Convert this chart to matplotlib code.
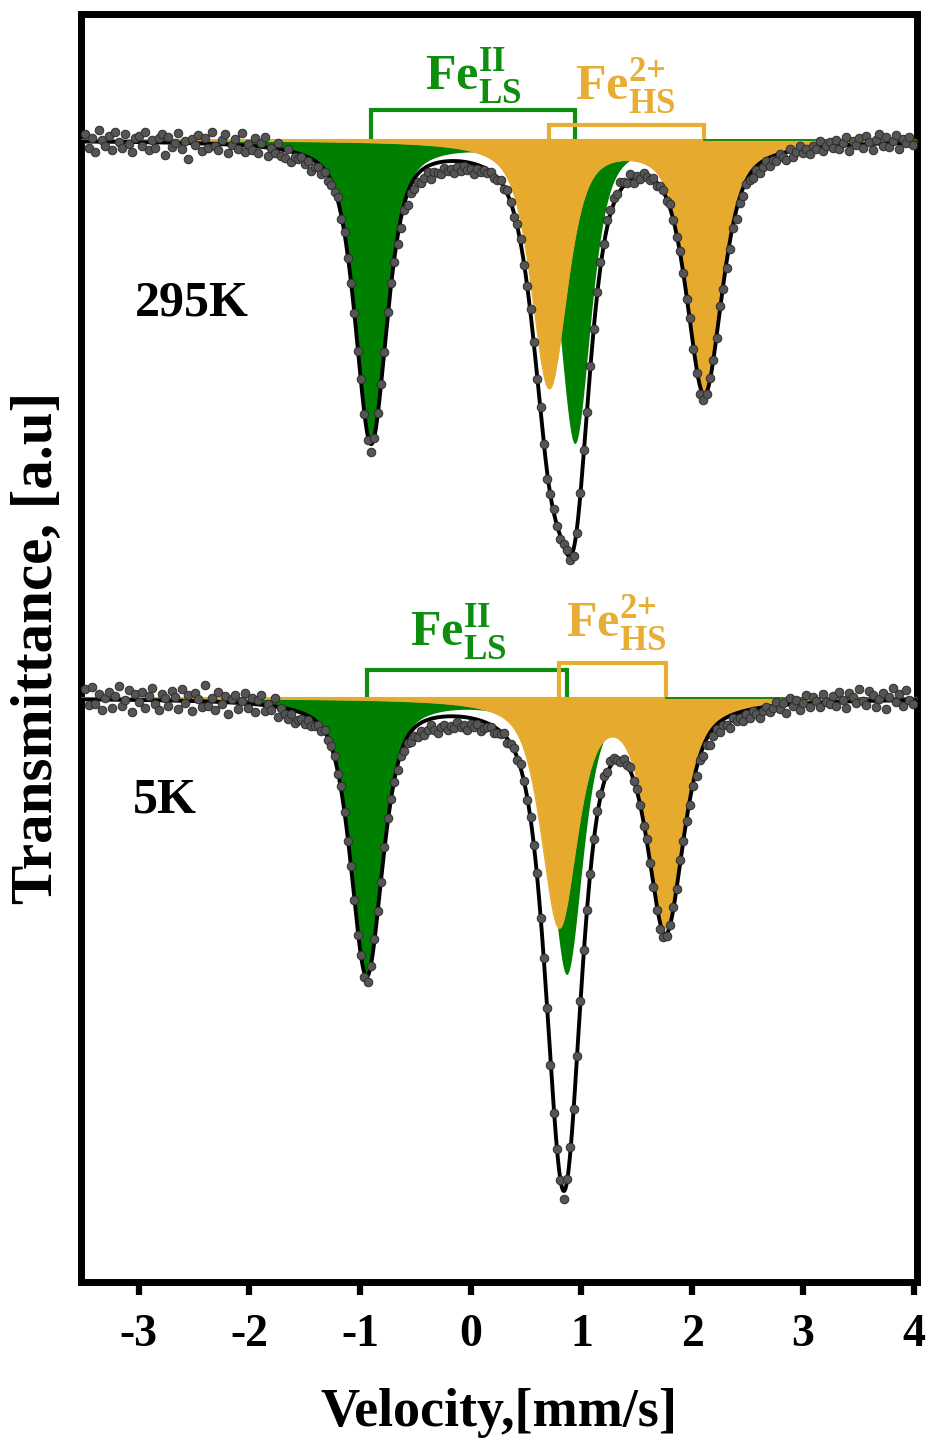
import numpy as np
import matplotlib
matplotlib.use('Agg')
import matplotlib.pyplot as plt

plt.rcParams['font.family'] = ['Liberation Serif', 'DejaVu Serif']
plt.rcParams['font.weight'] = 'bold'
plt.rcParams['mathtext.fontset'] = 'custom'
plt.rcParams['mathtext.rm'] = 'Liberation Serif:bold'
plt.rcParams['mathtext.bf'] = 'Liberation Serif:bold'

# channel grid of the spectra (mm/s)
v_start, v_step, n_chan = -3.48, 0.03, 250

# fitted doublets: line centres (mm/s), depths, FWHM
ls_295_centres = [-0.90, 0.94]
ls_295_depths = [0.150, 0.151]
ls_295_width = 0.34
hs_295_centres = [0.71, 2.11]
hs_295_depths = [0.123, 0.124]
hs_295_width = 0.38

ls_5_centres = [-0.94, 0.866]
ls_5_depths = [0.1375, 0.1375]
ls_5_width = 0.34
hs_5_centres = [0.80, 1.76]
hs_5_depths = [0.1125, 0.1125]
hs_5_width = 0.38

baseline_295 = 1.0
baseline_5 = 0.721

# measured points: deviation from the fit, in units of 0.001
res_295 = [4, -3, 2, -5, 6, 1, -2, 3, -4, 5, 0, -3, 4, -1, -5, 2, 3, -2, 5, -4, 1, -3, 2, 4, -6,
           3, -2, 0, 5, -3, 1, -8, 2, -1, 4, -4, 3, -2, 6, -1, -3, 2, 5, -4, 0, 3, -2, 6, -3, 1,
           -2, 4, -3, 2, 5, -4, 0, -2, 3, -3, -4, 1, -5, -2, -3, -1, -4, -2, -6, -3, -2, -4, -1, -3, -2,
           -1, 2, -2, 1, -1, 0, 1, -1, 2, 0, -2, -4, -1, 1, 0, -1, 2, 1, -2, -4, -5, -3, -6, -4, -5,
           -4, -6, -5, -3, -7, -4, -5, -6, -3, -5, -4, -6, -3, -5, -2, -4, -3, -5, -2, -3, -1, -2, 0, -2, -1,
           1, -1, 2, 0, -2, 1, 2, -1, 0, 2, 1, -1, 2, 0, -3, 1, 2, 0, -1, 1, 2, -2, -4, -3, 1,
           2, -1, 1, 0, 2, 3, 1, 4, 2, 3, 1, 4, 2, 0, 3, -2, 1, -1, 2, 0, -1, 1, -2, 0, 1,
           -1, 2, 0, -1, 1, 0, -1, 2, -1, -2, -4, -3, -1, 1, 0, -1, 2, -2, -3, -4, -2, -5, -3, -4, -2,
           -3, -4, -2, -5, -3, -1, -4, -2, -3, 0, -2, -4, 1, -3, -1, 2, -2, 0, -3, 1, -1, 3, -2, 0, 2,
           -1, 3, -2, 1, 4, -3, 2, 0, 3, -2, 4, 1, -3, 2, 5, -1, 3, -2, 1, 4, -3, 2, 0, 3, -1]

res_5 = [5, -3, 6, -2, 3, -5, 1, 4, -4, 2, 7, -3, 0, 5, -6, 3, -1, 4, -4, 2, 6, -2, -5, 3, 1,
         -3, 5, 2, -4, 6, -1, 3, -5, 4, 1, -3, 8, -2, 2, -4, 5, -1, 3, -6, 2, 4, -3, 1, 5, -2,
         3, -4, 2, 5, -3, 1, -2, 4, -5, 0, -3, -5, -2, -6, -4, -3, -5, -2, -4, -3, -1, -2, 1, -1, 0,
         1, -1, 2, 0, -1, 1, 0, -2, 1, -2, -3, -1, 1, 0, -1, 1, 2, 0, -1, -3, -2, -4, -3, -5, -4,
         -6, -4, -7, -5, -3, -6, -8, -5, -4, -7, -5, -6, -3, -5, -4, -6, -3, -4, -2, -5, -3, -2, -1, -3, -2,
         -1, 1, -2, 0, 1, -1, 2, 0, -1, 1, 0, 2, -1, 1, 0, -3, -2, 1, 0, -4, 1, 2, -1, 0, 1,
         2, 0, -1, 1, 3, 2, 4, 1, 3, 2, 0, -1, 1, 0, 2, -1, 1, 0, -2, 1, 0, -1, -2, -3, -2,
         -1, 0, 1, -1, 2, 0, -1, -3, -2, -4, -2, -5, -3, -6, -4, -2, -5, -3, -4, -6, -2, -4, -3, -5, -2,
         -4, -1, -3, -5, -2, 0, -3, -1, 2, -2, 1, -4, 3, -1, 2, -3, 0, 4, -2, 3, 1, -2, 4, 0, -1,
         3, -2, 5, 1, -3, 4, 2, -1, 6, 0, -2, 5, 3, -3, 1, 4, -4, 2, 6, -1, 3, -3, 5, 0, -2]

temp_labels = ['295K', '5K']

GREEN = '#008000'
GREEN_TXT = '#0e8e0e'
ORANGE = '#e6aa2e'
ORANGE_TXT = '#e8ad35'


def line_shape(v, c, depth, fwhm, eta=0.6):
    # pseudo-Voigt absorption line
    x = (v - c) / fwhm
    lor = 1.0 / (1.0 + 4.0 * x ** 2)
    gau = np.exp(-4.0 * np.log(2) * x ** 2)
    return depth * (eta * lor + (1 - eta) * gau)


def doublet(v, centres, depths, fwhm):
    return sum(line_shape(v, c, d, fwhm) for c, d in zip(centres, depths))


fig = plt.figure(figsize=(9.3, 14.41), dpi=100)
ax = fig.add_axes([81 / 930, 1 - 1282 / 1441, (917 - 81) / 930, (1282 - 14) / 1441])

v_fine = np.linspace(-3.52, 4.03, 2000)
v_chan = v_start + v_step * np.arange(n_chan)

spectra = [
    (baseline_295, ls_295_centres, ls_295_depths, ls_295_width,
     hs_295_centres, hs_295_depths, hs_295_width, res_295),
    (baseline_5, ls_5_centres, ls_5_depths, ls_5_width,
     hs_5_centres, hs_5_depths, hs_5_width, res_5),
]

for base, lc, ld, lw_, hc, hd, hw, res in spectra:
    ls_fine = doublet(v_fine, lc, ld, lw_)
    hs_fine = doublet(v_fine, hc, hd, hw)
    ax.fill_between(v_fine, base, base - ls_fine, color=GREEN, lw=0, zorder=2)
    ax.fill_between(v_fine, base, base - hs_fine, color=ORANGE, lw=0, zorder=3)
    ax.plot(v_fine, base - hs_fine, color=ORANGE, lw=1.0, zorder=3)
    ax.plot([hc[1], 4.03], [base, base], color=GREEN, lw=1.2, zorder=3.5)
    ax.plot([-3.52, 4.03], [base, base], color=ORANGE, lw=1.5, zorder=3.4)
    ax.plot(v_fine, base - ls_fine - hs_fine, color='black', lw=2.8, zorder=4)
    y_chan = base - doublet(v_chan, lc, ld, lw_) - doublet(v_chan, hc, hd, hw) \
        + np.array(res) * 0.001
    ax.scatter(v_chan, y_chan, s=38, color='#555555', edgecolors='#2e2e2e',
               linewidths=0.7, zorder=5)

# brackets marking the doublet line positions
brackets = [
    (ls_295_centres, baseline_295, baseline_295 + 0.015, GREEN_TXT),
    (hs_295_centres, baseline_295, baseline_295 + 0.0075, ORANGE_TXT),
    (ls_5_centres, baseline_5, baseline_5 + 0.014, GREEN_TXT),
    (hs_5_centres, baseline_5, baseline_5 + 0.0175, ORANGE_TXT),
]
for cs, b, top, col in brackets:
    ax.plot([cs[0], cs[0], cs[1], cs[1]], [b, top, top, b], color=col, lw=3,
            solid_joinstyle='miter', zorder=1.5)

ls_label = r'$\mathbf{Fe}^{\mathbf{II}}_{\mathbf{LS}}$'
hs_label = r'$\mathbf{Fe}^{\mathbf{2{+}}}_{\mathbf{HS}}$'
ax.text(-0.415, 1.025, ls_label, color=GREEN_TXT, fontsize=36, ha='left', va='baseline')
ax.text(0.938, 1.020, hs_label, color=ORANGE_TXT, fontsize=36, ha='left', va='baseline')
ax.text(-0.55, 0.747, ls_label, color=GREEN_TXT, fontsize=36, ha='left', va='baseline')
ax.text(0.857, 0.7515, hs_label, color=ORANGE_TXT, fontsize=36, ha='left', va='baseline')

ax.text(-3.03, 0.9185, temp_labels[0], fontsize=36, fontweight='bold', ha='left', va='center')
ax.text(-3.05, 0.6695, temp_labels[1], fontsize=36, fontweight='bold', ha='left', va='center')

ax.set_xlim(-3.52, 4.03)
ax.set_ylim(0.429, 1.063)
ax.set_xticks(range(-3, 5))
ax.set_xticklabels([str(t) for t in range(-3, 5)])
ax.set_yticks([])
ax.tick_params(axis='x', direction='out', length=9, width=4.5, labelsize=33, pad=14)
for sp in ax.spines.values():
    sp.set_linewidth(5)

ax.set_xlabel('Velocity,[mm/s]', fontsize=39, fontweight='bold', labelpad=23)
ax.set_ylabel('Transmittance, [a.u]', fontsize=42.5, fontweight='bold', labelpad=12)

fig.savefig('out.png', dpi=100)
